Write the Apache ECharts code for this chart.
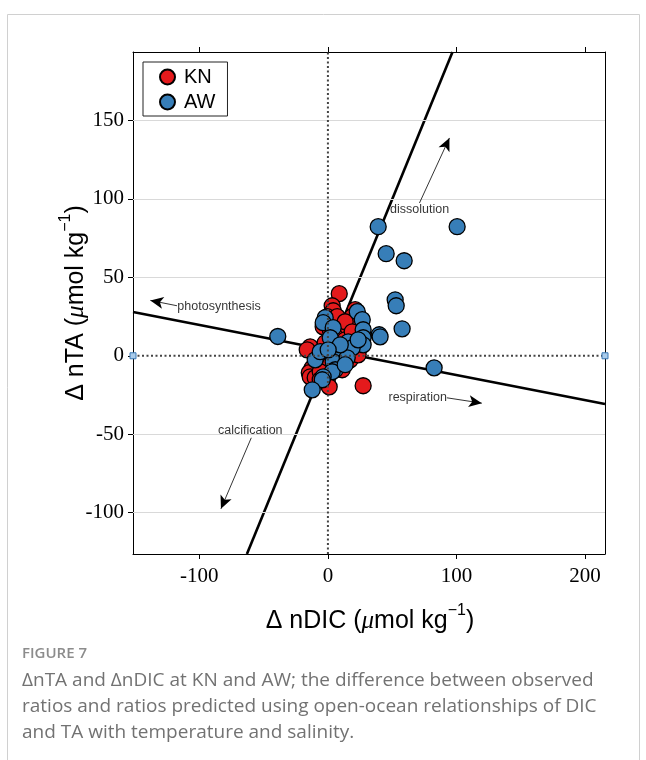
<!DOCTYPE html>
<html>
<head>
<meta charset="utf-8">
<script src="https://cdn.jsdelivr.net/npm/echarts@6/dist/echarts.min.js"></script>
<style>
  html, body { margin: 0; padding: 0; background: #fff; }
  #chart { width: 646px; height: 760px; }
</style>
</head>
<body>
<div id="chart"></div>
<script>
// axis ranges and tick labels
const xRange = [-151.6, 215.5]
const yRange = [-126.4, 193.7]
const xTicks = [-100, 0, 100, 200]
const yTicks = [-100, -50, 0, 50, 100, 150]
const yGrid = [-100, -50, 50, 100, 150]

// KN (red) and AW (blue) points: [ΔnDIC, ΔnTA]
const knPoints = [
  [8.8, 39.6], [3.3, 31.9], [4.1, 28.7], [21.2, 29.4], [22.8, 26.8],
  [-0.5, 24.9], [7.2, 24.9], [18.9, 24.9], [-3.7, 18.5], [11.1, 16.6],
  [18.9, 19.8], [13.4, 21.7], [8.0, 8.3], [-13.8, 5.7], [-16.1, 3.8],
  [-3.7, 3.8], [15.8, 3.8], [8.0, -0.6], [17.3, -2.6], [23.5, 0.6],
  [-12.2, -7.7], [-14.5, -10.8], [-13.8, -13.4], [-0.5, -15.3], [1.0, -19.8],
  [27.4, -19.1], [-7.5, -1.3], [1.8, -5.7], [11.1, -8.9], [-9.9, -14.0],
  [5.7, 12.1], [13.4, 10.2], [-2.1, 8.3], [-6.0, -10.2], [18.9, 15.3],
  [1.8, 16.6], [-6.0, -15.3]
]
const awPoints = [
  [-39.0, 12.3], [-2.1, 24.3], [-3.7, 21.1], [4.1, 17.9], [22.8, 28.1],
  [26.7, 23.0], [27.4, 16.6], [27.4, 11.5], [27.4, 7.0], [15.8, 8.9],
  [18.9, 5.1], [1.8, 11.5], [-9.9, -2.6], [7.2, 0.6], [4.1, -3.8],
  [5.7, -8.9], [3.3, -10.2], [-3.7, -13.4], [-4.4, -15.3], [-12.2, -21.7],
  [15.0, -1.3], [39.1, 82.3], [100.5, 82.3], [45.3, 65.1], [59.3, 60.6],
  [52.3, 35.7], [53.1, 31.9], [57.7, 17.2], [39.9, 13.4], [40.6, 12.1],
  [82.6, -7.7], [9.6, 7.0], [23.5, 10.2], [13.4, -5.7], [-6.0, 2.6],
  [0.2, 3.8]
]

// reference lines (endpoints)
const carbonateLine = [[-63.0, -126.4], [96.9, 193.7]]
const organicLine = [[-151.6, 27.9], [215.5, -30.8]]
const zeroH = [[-151.6, 0], [215.5, 0]]
const zeroV = [[0, -126.4], [0, 193.7]]

// process annotations: text position and arrow tail/head
const notes = [
  { text: 'photosynthesis', at: [-117.1, 31.5], align: 'left', tail: [-117.4, 31.9], head: [-138.1, 35.3] },
  { text: 'respiration', at: [92.5, -26.4], align: 'right', tail: [92.5, -26.8], head: [119.7, -30.2] },
  { text: 'dissolution', at: [71.3, 93.2], align: 'center', tail: [71.2, 97.4], head: [94.5, 138.9] },
  { text: 'calcification', at: [-60.4, -47.7], align: 'center', tail: [-59.6, -52.3], head: [-83.2, -97.6] }
]

const serif = 'Liberation Serif'
const sans = 'Liberation Sans'

const chart = echarts.init(document.getElementById('chart'), null, { renderer: 'canvas' })

const markerStyle = (color) => ({
  color: color,
  borderColor: '#000',
  borderWidth: 1.3,
  opacity: 1
})

const labelText = (t) => ({
  fontFamily: sans,
  fontSize: 25,
  color: '#000',
  rich: {
    a: { fontFamily: sans, fontSize: 25, lineHeight: 31, verticalAlign: 'bottom', color: '#000' },
    mu: { fontFamily: serif, fontStyle: 'italic', fontSize: 25, lineHeight: 31, verticalAlign: 'bottom', color: '#000' },
    sup: { fontFamily: sans, fontSize: 16, lineHeight: 17, verticalAlign: 'top', color: '#000' }
  },
  text: t
})

chart.setOption({
  animation: false,
  backgroundColor: '#fff',
  grid: { left: 133, top: 52, right: 41, bottom: 206 },
  legend: {
    data: ['KN', 'AW'],
    orient: 'vertical',
    left: 143,
    top: 62,
    backgroundColor: '#fff',
    borderColor: '#222',
    borderWidth: 1,
    padding: [5, 12, 4, 16],
    itemGap: 5,
    itemWidth: 15,
    itemHeight: 15,
    icon: 'circle',
    textStyle: { fontFamily: sans, fontSize: 20, color: '#000', padding: [0, 0, 0, 4] }
  },
  xAxis: [{
    type: 'value',
    min: xRange[0],
    max: xRange[1],
    axisLine: { onZero: false, lineStyle: { color: '#000', width: 1 } },
    axisTick: { show: true, inside: false, length: 5, customValues: xTicks, lineStyle: { color: '#000' } },
    axisLabel: { customValues: xTicks, fontFamily: serif, fontSize: 21, color: '#000', margin: 12 },
    splitLine: { show: false }
  }, {
    type: 'value',
    position: 'top',
    min: xRange[0],
    max: xRange[1],
    axisLine: { onZero: false, lineStyle: { color: '#000', width: 1 } },
    axisTick: { show: true, inside: false, length: 5, customValues: xTicks, lineStyle: { color: '#000' } },
    axisLabel: { show: false },
    splitLine: { show: false }
  }],
  yAxis: [{
    type: 'value',
    min: yRange[0],
    max: yRange[1],
    axisLine: { show: true, onZero: false, lineStyle: { color: '#000', width: 1 } },
    axisTick: { show: true, inside: false, length: 5, customValues: yTicks, lineStyle: { color: '#000' } },
    axisLabel: { customValues: yTicks, fontFamily: serif, fontSize: 21, color: '#000', margin: 9 },
    splitLine: { show: false }
  }, {
    type: 'value',
    position: 'right',
    min: yRange[0],
    max: yRange[1],
    axisLine: { show: true, onZero: false, lineStyle: { color: '#000', width: 1 } },
    axisTick: { show: false },
    axisLabel: { show: false },
    splitLine: { show: false }
  }],
  series: [
    {
      name: 'grid',
      type: 'line',
      data: [],
      silent: true,
      z: 1,
      markLine: {
        silent: true,
        symbol: 'none',
        label: { show: false },
        lineStyle: { color: '#d9d9d9', width: 1, type: 'solid' },
        data: yGrid.map(v => ({ yAxis: v }))
      }
    },
    {
      name: 'carbonate',
      type: 'line',
      data: carbonateLine,
      symbol: 'none',
      silent: true,
      z: 2,
      lineStyle: { color: '#000', width: 2.6 }
    },
    {
      name: 'organic',
      type: 'line',
      data: organicLine,
      symbol: 'none',
      silent: true,
      z: 2,
      lineStyle: { color: '#000', width: 2.6 }
    },
    {
      name: 'KN',
      type: 'scatter',
      data: knPoints,
      symbolSize: 16,
      z: 3,
      itemStyle: markerStyle('#e41a1c')
    },
    {
      name: 'AW',
      type: 'scatter',
      data: awPoints,
      symbolSize: 16,
      z: 4,
      itemStyle: markerStyle('#377eb8')
    },
    {
      name: 'zeroV',
      type: 'line',
      data: zeroV,
      symbol: 'none',
      silent: true,
      z: 5,
      lineStyle: { color: '#444', width: 2, type: [2, 2.5] }
    },
    {
      name: 'zeroH',
      type: 'line',
      data: zeroH,
      symbol: 'rect',
      symbolSize: 6,
      showAllSymbol: true,
      silent: true,
      z: 5,
      itemStyle: { color: '#a9cbea', borderColor: '#3a78b5', borderWidth: 1 },
      lineStyle: { color: '#444', width: 2, type: [2, 2.5] }
    },
    {
      name: 'notes',
      type: 'scatter',
      symbolSize: 0,
      silent: true,
      z: 6,
      data: notes.map(n => ({
        value: n.at,
        label: {
          show: true,
          position: 'inside',
          formatter: n.text,
          align: n.align,
          verticalAlign: 'middle',
          fontFamily: sans,
          fontSize: 12.5,
          color: '#000'
        }
      })),
      markLine: {
        silent: true,
        animation: false,
        label: { show: false },
        lineStyle: { color: '#000', width: 0.8, type: 'solid' },
        data: notes.map(n => [
          { coord: n.tail, symbol: 'none' },
          { coord: n.head, symbol: 'arrow', symbolSize: [9, 13] }
        ])
      }
    }
  ],
  graphic: [
    {
      type: 'rect',
      silent: true,
      z: -10,
      shape: { x: 7.5, y: 14.5, width: 632, height: 800 },
      style: { fill: 'none', stroke: '#d0d0d0', lineWidth: 1 }
    },
    {
      type: 'text',
      x: 370,
      y: 618,
      style: Object.assign(labelText('{a|Δ nDIC (}{mu|μ}{a|mol kg}{sup|−1}{a|)}'), { align: 'center', verticalAlign: 'middle' })
    },
    {
      type: 'text',
      x: 73,
      y: 303,
      rotation: Math.PI / 2,
      style: Object.assign(labelText('{a|Δ nTA (}{mu|μ}{a|mol kg}{sup|−1}{a|)}'), { align: 'center', verticalAlign: 'middle' })
    },
    {
      type: 'text',
      x: 22,
      y: 654,
      style: {
        text: 'FIGURE 7',
        fontFamily: 'Open Sans',
        fontWeight: 600,
        fontSize: 15,
        fill: '#8c8c8c',
        verticalAlign: 'middle'
      }
    },
    {
      type: 'text',
      x: 22,
      y: 668,
      style: {
        text: 'ΔnTA and ΔnDIC at KN and AW; the difference between observed\nratios and ratios predicted using open-ocean relationships of DIC\nand TA with temperature and salinity.',
        fontFamily: 'Open Sans',
        fontSize: 19,
        lineHeight: 26,
        fill: '#727272',
        verticalAlign: 'top'
      }
    }
  ]
})
</script>
</body>
</html>
